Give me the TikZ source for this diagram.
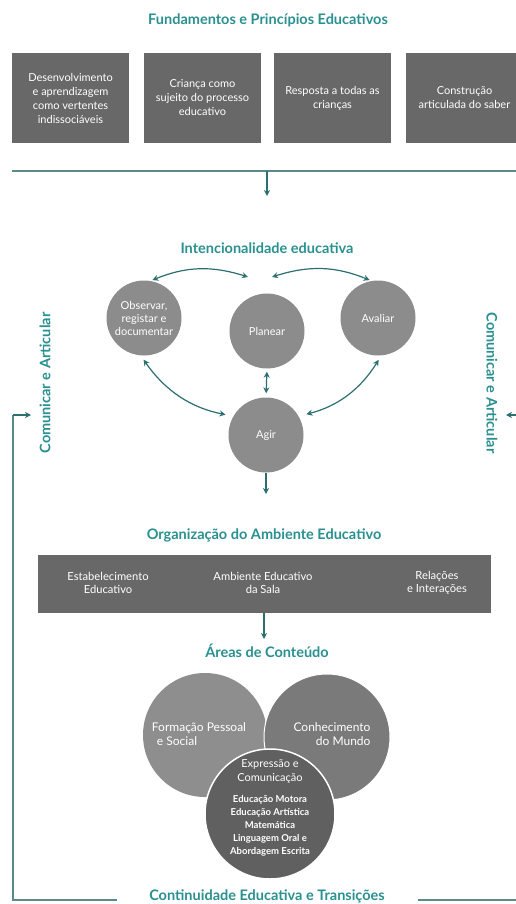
\documentclass[tikz,border=0pt]{standalone}
\usepackage{fontspec}
\setmainfont{Lato}
\usetikzlibrary{arrows.meta}
\definecolor{tealT}{HTML}{2A9090}
\definecolor{lineC}{HTML}{5A8A8A}
\definecolor{arrC}{HTML}{2C6F70}
\definecolor{boxC}{HTML}{686868}
\definecolor{circC}{HTML}{8C8C8C}
\definecolor{areaA}{HTML}{8E8E8E}
\definecolor{areaB}{HTML}{7A7A7A}
\definecolor{areaC}{HTML}{606060}
\begin{document}
\begin{tikzpicture}[x=1pt,y=1pt,
  ttl/.style={text=tealT,font=\fontsize{14.5}{16}\selectfont\bfseries,inner sep=0},
  fbox/.style={fill=boxC,text=white,minimum width=117,minimum height=90,inner sep=2,align=center,font=\fontsize{11}{14}\selectfont},
  pc/.style={circle,fill=circC,minimum size=75,inner sep=0,text=white,align=center,font=\fontsize{11}{13}\selectfont},
  wtxt/.style={text=white,align=center,font=\fontsize{11.2}{13.5}\selectfont,inner sep=0},
  conn/.style={draw=lineC,line width=1.3},
  tip/.style={-{Stealth[length=6,width=6]},draw=arrC,line width=1.3,color=arrC},
  dbl/.style={{Stealth[length=6,width=6]}-{Stealth[length=6,width=6]},draw=arrC,line width=1.2,color=arrC}
]
\clip (0,0) rectangle (516,-904);
\fill[white] (0,0) rectangle (516,-904);

% Fundamentos
\node[ttl] (t1) at (268,-20) {Fundamentos e Princípios Educativos};
\node[fbox] (b1) at (70.5,-98) {Desenvolvimento\\e aprendizagem\\como vertentes\\indissociáveis};
\node[fbox] (b2) at (202.5,-98) {Criança como\\sujeito do processo\\educativo};
\node[fbox] (b3) at (332.5,-98) {Resposta a todas as\\crianças};
\node[fbox] (b4) at (464.5,-98) {Construção\\articulada do saber};

\coordinate (hl) at (12,-171);
\coordinate (hr) at (516,-171);
\coordinate (hm) at (267,-171);
\coordinate (hd) at (267,-196);
\draw[conn] (hl) -- (hr);
\draw[tip] (hm) -- (hd);

% Intencionalidade
\node[ttl] (t2) at (267,-248) {Intencionalidade educativa};
\node[pc] (obs) at (144,-318) {Observar,\\registar e\\documentar};
\node[pc] (pla) at (267,-331) {Planear};
\node[pc] (ava) at (378,-318) {Avaliar};
\node[pc] (agi) at (266,-435) {Agir};

\coordinate (pl) at (248,-277);
\coordinate (pr) at (272,-277);
\draw[dbl,shorten <=2] (obs.80) to[bend left=20] (pl);
\draw[dbl,shorten >=2] (pr) to[bend left=20] (ava.100);
\draw[dbl,shorten <=5,shorten >=8] (obs.265) to[bend right=22] (agi.150);
\draw[dbl,shorten <=5,shorten >=8] (ava.275) to[bend left=22] (agi.30);
\draw[dbl,shorten <=3,shorten >=4] (pla.south) -- (agi.north);
\coordinate (ad) at (266,-494);
\draw[tip] (agi.south) -- (ad);

% Comunicar e Articular
\node[ttl,rotate=90] (cl) at (45,-383) {Comunicar e Articular};
\node[ttl,rotate=-90] (cr) at (492,-383) {Comunicar e Articular};

% Loop lines
\coordinate (la) at (31,-415);
\coordinate (lt) at (13,-415);
\coordinate (lb) at (13,-900);
\coordinate (bl) at (117,-900);
\draw[conn] (lt) -- (lb) -- (bl);
\draw[tip] (lt) -- (la);
\coordinate (rr) at (517,-415);
\coordinate (rt) at (506,-415);
\draw[tip] (rr) -- (rt);
\coordinate (br1) at (418,-900);
\coordinate (br2) at (516,-900);
\draw[conn] (br1) -- (br2);
\node[ttl] (t5) at (267,-896) {Continuidade Educativa e Transições};

% Organizacao
\node[ttl] (t3) at (264,-535) {Organização do Ambiente Educativo};
\node[fill=boxC,minimum width=453,minimum height=58,inner sep=0] (bar) at (264,-584) {};
\node[wtxt] (e1) at (108,-583) {Estabelecimento\\Educativo};
\node[wtxt] (e2) at (263,-583) {Ambiente Educativo\\da Sala};
\node[wtxt] (e3) at (437,-583) {Relações\\e Interações};
\coordinate (bd) at (264,-639);
\draw[tip] (bar.south) -- (bd);

% Areas
\node[ttl] (t4) at (267,-651) {Áreas de Conteúdo};
\node[circle,fill=areaA,minimum size=124,inner sep=0] (fps) at (205,-735) {};
\node[circle,fill=areaB,draw=white,line width=1,minimum size=126,inner sep=0] (cdm) at (327,-737) {};
\node[circle,fill=areaC,draw=white,line width=1.5,minimum size=130,inner sep=0] (exc) at (270,-814) {};
\node[text=white,align=left,font=\fontsize{12}{14}\selectfont,inner sep=0] (fpst) at (199,-734) {Formação Pessoal\\\hspace*{5pt}e Social};
\node[text=white,align=right,font=\fontsize{12}{14}\selectfont,inner sep=0] (cdmt) at (332,-734) {Conhecimento\\do Mundo};
\node[text=white,align=center,font=\fontsize{11}{14}\selectfont,inner sep=0] (exct) at (270,-772) {Expressão e\\Comunicação};
\node[text=white,align=center,font=\fontsize{9.5}{13}\selectfont\bfseries,inner sep=0] (excl) at (270,-826) {Educação Motora\\Educação Artística\\Matemática\\Linguagem Oral e\\Abordagem Escrita};
\end{tikzpicture}
\end{document}
